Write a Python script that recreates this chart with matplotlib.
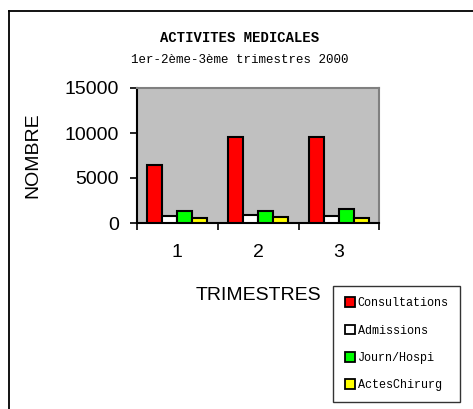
import numpy as np
import matplotlib
matplotlib.use("Agg")
import matplotlib.pyplot as plt
from matplotlib.lines import Line2D
from matplotlib.patches import Patch
from matplotlib.ticker import FixedLocator

TRIMESTRES = ["1", "2", "3"]
SERIES = ["Consultations", "Admissions", "Journ/Hospi", "ActesChirurg"]
CONSULTATIONS = [6450, 9550, 9550]
ADMISSIONS = [750, 930, 750]
JOURN_HOSPI = [1330, 1330, 1600]
ACTES_CHIRURG = [520, 700, 520]
VALUES = [CONSULTATIONS, ADMISSIONS, JOURN_HOSPI, ACTES_CHIRURG]
COLORS = ["#FF0000", "#FFFFFF", "#00FF00", "#FFFF00"]
YTICKS = [0, 5000, 10000, 15000]

W, H = 473, 409
SANS = ["Liberation Sans", "DejaVu Sans"]
MONO = ["Liberation Mono", "DejaVu Sans Mono"]

fig = plt.figure(figsize=(W / 100, H / 100), dpi=100)

# outer chart frame (top + left edges only visible)
fig.add_artist(Line2D([9 / W, 1], [1 - 11 / H, 1 - 11 / H], color="black", lw=1.3))
fig.add_artist(Line2D([9 / W, 9 / W], [0, 1 - 11 / H], color="black", lw=1.3))

ax = fig.add_axes([137 / W, 1 - 223 / H, 242.3 / W, 135 / H])
ax.set_facecolor("#C0C0C0")

x = np.arange(1, len(TRIMESTRES) + 1)
bw = 0.186
for i, (vals, col, name) in enumerate(zip(VALUES, COLORS, SERIES)):
    ax.bar(x + (i - 1.5) * bw, vals, bw, color=col, edgecolor="black",
           linewidth=1.5, label=name, zorder=3)

ax.set_xlim(0.5, 3.5)
ax.set_ylim(0, 15000)
ax.set_yticks(YTICKS)
ax.set_yticklabels([str(v) for v in YTICKS], family=SANS, fontsize=14)
ax.set_xticks(x)
ax.set_xticklabels(TRIMESTRES, family=SANS, fontsize=14)
ax.xaxis.set_minor_locator(FixedLocator([0.5, 1.5, 2.5, 3.5]))
ax.tick_params(axis="x", which="major", length=0, pad=15)
ax.tick_params(axis="x", which="minor", length=5, width=1.2, direction="out")
ax.tick_params(axis="y", length=5, width=1.2, direction="out", pad=8)

for s in ["top", "right"]:
    ax.spines[s].set_color("#808080")
    ax.spines[s].set_linewidth(1.5)
for s in ["left", "bottom"]:
    ax.spines[s].set_color("black")
    ax.spines[s].set_linewidth(1.5)

ax.set_ylabel("NOMBRE", family=SANS, fontsize=14, labelpad=17)
ax.set_xlabel("TRIMESTRES", family=SANS, fontsize=14, labelpad=19)

fig.text(240 / W, 1 - 38 / H, "ACTIVITES MEDICALES", family=MONO,
         fontweight="bold", fontsize=10, ha="center", va="center")
fig.text(240 / W, 1 - 60 / H, "1er-2ème-3ème trimestres 2000", family=MONO,
         fontsize=9, ha="center", va="center")

handles = [Patch(facecolor=c, edgecolor="black", linewidth=1.3) for c in COLORS]
leg = fig.legend(handles, SERIES, loc="upper left",
                 bbox_to_anchor=(333.3 / W, 1 - 286 / H), borderaxespad=0,
                 prop={"family": MONO, "size": 8.5}, frameon=True, fancybox=False,
                 edgecolor="black", handlelength=0.85, handleheight=0.85,
                 handletextpad=0.25, labelspacing=1.3, borderpad=0.95)
leg.get_frame().set_linewidth(1.0)

fig.savefig("out.png", dpi=100, facecolor="white")
